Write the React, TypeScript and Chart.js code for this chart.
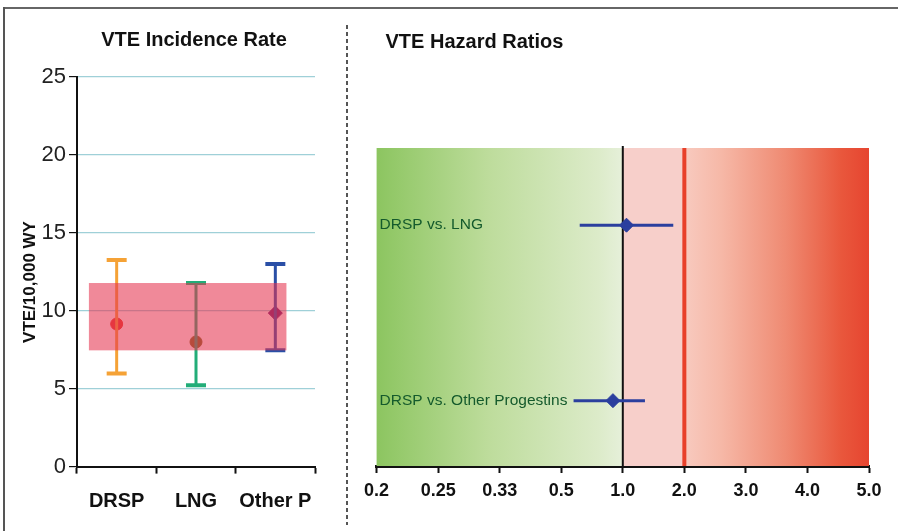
import React, { useEffect, useRef } from 'react';
import { Chart, registerables } from 'chart.js';
Chart.register(...registerables);

const FONT = "'Liberation Sans', Arial, Helvetica, sans-serif";

// ---------- Left panel: VTE incidence rate ----------
const groups = ['DRSP', 'LNG', 'Other P'];
const rateMean = [9.15, 8.0, 9.85];
const rateLow = [5.98, 5.22, 7.46];
const rateHigh = [13.26, 11.78, 13.0];
const bandLow = 7.46;
const bandHigh = 11.78;
const barColors = ['#f5a236', '#22ad78', '#2a4fa6'];
const pointColors = ['#e8392b', '#7b6a23', '#6b1f6e'];
const pointShapes = ['circle', 'circle', 'rectRot'];

// ---------- Right panel: VTE hazard ratios ----------
const hrTickLabels = ['0.2', '0.25', '0.33', '0.5', '1.0', '2.0', '3.0', '4.0', '5.0'];
const hrTickValues = [0.2, 0.25, 0.33, 0.5, 1, 2, 3, 4, 5];
const comparisons = ['DRSP vs. LNG', 'DRSP vs. Other Progestins'];
const hrEstimate = [1.06, 0.92];
const hrLow = [0.65, 0.6];
const hrHigh = [1.82, 1.36];

// axis transform: evenly spaced ticks, linear within each interval
function hrToPos(v: number): number {
  for (let i = 0; i < hrTickValues.length - 1; i++) {
    const a = hrTickValues[i], b = hrTickValues[i + 1];
    if (v >= a && v <= b) return i + (v - a) / (b - a);
  }
  return v < hrTickValues[0] ? 0 : hrTickValues.length - 1;
}

function LeftChart() {
  const ref = useRef<HTMLCanvasElement>(null);
  useEffect(() => {
    const datasets: any[] = [];
    groups.forEach((g, i) => {
      datasets.push({
        data: [{ x: g, y: rateLow[i] }, { x: g, y: rateHigh[i] }],
        borderColor: barColors[i],
        borderWidth: 3,
        pointRadius: 0,
      });
      datasets.push({
        data: [{ x: g, y: rateLow[i] }, { x: g, y: rateHigh[i] }],
        showLine: false,
        pointStyle: 'line',
        pointRadius: 10,
        pointBorderWidth: 4,
        pointBorderColor: barColors[i],
        pointBackgroundColor: barColors[i],
      });
      datasets.push({
        data: [{ x: g, y: rateMean[i] }],
        showLine: false,
        pointStyle: pointShapes[i],
        pointRadius: pointShapes[i] === 'rectRot' ? 7 : 6,
        pointBorderWidth: 1,
        pointBorderColor: pointColors[i],
        pointBackgroundColor: pointColors[i],
      });
    });
    const deco = {
      id: 'leftDeco',
      afterDatasetsDraw(chart: any) {
        const ctx = chart.ctx;
        const xs = chart.scales.x, ys = chart.scales.y;
        const p0 = xs.getPixelForValue(0), p2 = xs.getPixelForValue(2);
        const cw = xs.getPixelForValue(1) - p0;
        const x0 = p0 - 0.35 * cw, x1 = p2 + 0.14 * cw;
        const yt = ys.getPixelForValue(bandHigh), yb = ys.getPixelForValue(bandLow);
        ctx.save();
        ctx.fillStyle = 'rgba(230, 52, 80, 0.58)';
        ctx.fillRect(x0, yt, x1 - x0, yb - yt);
        ctx.restore();
      },
      afterDraw(chart: any) {
        const ctx = chart.ctx;
        ctx.save();
        ctx.fillStyle = '#111';
        ctx.font = `bold 20px ${FONT}`;
        ctx.textAlign = 'center';
        ctx.textBaseline = 'middle';
        ctx.fillText('VTE Incidence Rate', 194, 40);
        ctx.translate(30, 282);
        ctx.rotate(-Math.PI / 2);
        ctx.font = `bold 17px ${FONT}`;
        ctx.fillText('VTE/10,000 WY', 0, 0);
        ctx.restore();
      },
    };
    const chart = new Chart(ref.current as HTMLCanvasElement, {
      type: 'line',
      data: { labels: groups, datasets },
      options: {
        responsive: false,
        animation: false,
        events: [],
        layout: { padding: { top: 77, right: 31, left: 0, bottom: 0 } },
        plugins: { legend: { display: false }, tooltip: { enabled: false } },
        scales: {
          x: {
            type: 'category',
            offset: true,
            grid: {
              offset: true,
              drawOnChartArea: false,
              drawTicks: true,
              tickLength: 7,
              tickColor: '#111',
              tickWidth: 2,
            },
            border: { color: '#111', width: 2 },
            ticks: { font: { family: FONT, size: 20, weight: 'bold' }, color: '#111', padding: 16 },
            afterFit: (s: any) => { s.height = 64.4; },
          },
          y: {
            min: 0,
            max: 25,
            ticks: { stepSize: 5, font: { family: FONT, size: 22 }, color: '#222', padding: 3 },
            grid: {
              color: (c: any) => (c.tick && c.tick.value === 0 ? 'rgba(0,0,0,0)' : '#9fd0d8'),
              tickColor: '#111',
              tickLength: 8,
              lineWidth: 1.2,
            },
            border: { color: '#111', width: 2 },
            afterFit: (s: any) => { s.width = 77; },
          },
        },
      } as any,
      plugins: [deco],
    });
    return () => chart.destroy();
  }, []);
  return <canvas ref={ref} width={346} height={531} style={{ position: 'absolute', left: 0, top: 0 }} />;
}

function RightChart() {
  const ref = useRef<HTMLCanvasElement>(null);
  useEffect(() => {
    const rowY = comparisons.map((_, i) => 1 + 2 * i);
    const datasets: any[] = [];
    comparisons.forEach((c, i) => {
      datasets.push({
        data: [{ x: hrToPos(hrLow[i]), y: rowY[i] }, { x: hrToPos(hrHigh[i]), y: rowY[i] }],
        borderColor: '#2b3f9e',
        borderWidth: 3,
        pointRadius: 0,
      });
      datasets.push({
        data: [{ x: hrToPos(hrEstimate[i]), y: rowY[i] }],
        showLine: false,
        pointStyle: 'rectRot',
        pointRadius: 7,
        pointBorderWidth: 1,
        pointBorderColor: '#2b3f9e',
        pointBackgroundColor: '#2b3f9e',
      });
    });
    const deco = {
      id: 'rightDeco',
      beforeDatasetsDraw(chart: any) {
        const ctx = chart.ctx;
        const { left, right, top, bottom } = chart.chartArea;
        const xs = chart.scales.x, ys = chart.scales.y;
        const x1 = xs.getPixelForValue(hrToPos(1));
        const x2 = xs.getPixelForValue(hrToPos(2));
        ctx.save();
        let g = ctx.createLinearGradient(left, 0, x1, 0);
        g.addColorStop(0, '#8cc560');
        g.addColorStop(0.45, '#bddc9b');
        g.addColorStop(0.9, '#dcebc9');
        g.addColorStop(1, '#e6f0da');
        ctx.fillStyle = g;
        ctx.fillRect(left, top, x1 - left, bottom - top);
        ctx.fillStyle = '#f7cfca';
        ctx.fillRect(x1, top, x2 - x1, bottom - top);
        g = ctx.createLinearGradient(x2, 0, right, 0);
        g.addColorStop(0, '#f8cabf');
        g.addColorStop(0.2, '#f6b8a7');
        g.addColorStop(0.55, '#ef8a72');
        g.addColorStop(0.85, '#e9573c');
        g.addColorStop(1, '#e64530');
        ctx.fillStyle = g;
        ctx.fillRect(x2, top, right - x2, bottom - top);
        // reference lines
        ctx.strokeStyle = '#e8402a';
        ctx.lineWidth = 4;
        ctx.beginPath();
        ctx.moveTo(x2, top);
        ctx.lineTo(x2, bottom);
        ctx.stroke();
        ctx.strokeStyle = '#111';
        ctx.lineWidth = 2;
        ctx.beginPath();
        ctx.moveTo(x1, top - 2);
        ctx.lineTo(x1, bottom);
        ctx.stroke();
        // comparison labels
        ctx.fillStyle = '#145a2c';
        ctx.font = `15.5px ${FONT}`;
        ctx.textAlign = 'left';
        ctx.textBaseline = 'middle';
        comparisons.forEach((c, i) => {
          ctx.fillText(c, left + 3, ys.getPixelForValue(rowY[i]));
        });
        ctx.restore();
      },
      afterDraw(chart: any) {
        const ctx = chart.ctx;
        ctx.save();
        ctx.fillStyle = '#111';
        ctx.font = `bold 20px ${FONT}`;
        ctx.textAlign = 'left';
        ctx.textBaseline = 'middle';
        ctx.fillText('VTE Hazard Ratios', 39.5, 42.7);
        ctx.restore();
      },
    };
    const chart = new Chart(ref.current as HTMLCanvasElement, {
      type: 'line',
      data: { datasets },
      options: {
        responsive: false,
        animation: false,
        events: [],
        layout: { padding: { top: 148, right: 29, left: 30.6, bottom: 0 } },
        plugins: { legend: { display: false }, tooltip: { enabled: false } },
        scales: {
          x: {
            type: 'linear',
            min: 0,
            max: hrTickLabels.length - 1,
            grid: {
              drawOnChartArea: false,
              drawTicks: true,
              tickLength: 7,
              tickColor: '#111',
              tickWidth: 2,
            },
            border: { color: '#111', width: 3 },
            ticks: {
              stepSize: 1,
              autoSkip: false,
              maxRotation: 0,
              callback: (v: any) => hrTickLabels[Math.round(Number(v))],
              font: { family: FONT, size: 18, weight: 'bold' },
              color: '#111',
              padding: 7,
            },
            afterFit: (s: any) => { s.height = 65; },
          },
          y: {
            type: 'linear',
            display: false,
            reverse: true,
            min: 0.12,
            max: 3.745,
          },
        },
      } as any,
      plugins: [deco],
    });
    return () => chart.destroy();
  }, []);
  return <canvas ref={ref} width={552} height={531} style={{ position: 'absolute', left: 346, top: 0 }} />;
}

export default function App() {
  return (
    <div style={{ position: 'fixed', left: 0, top: 0, width: 898, height: 531, background: '#fff', overflow: 'hidden' }}>
      <LeftChart />
      <RightChart />
      <svg width={898} height={531} style={{ position: 'absolute', left: 0, top: 0, pointerEvents: 'none' }}>
        <line x1={4} y1={8} x2={898} y2={8} stroke="#666" strokeWidth={2} />
        <line x1={4} y1={7} x2={4} y2={531} stroke="#555" strokeWidth={2} />
        <line x1={347} y1={25} x2={347} y2={525} stroke="#555" strokeWidth={2} strokeDasharray="4 3" />
      </svg>
    </div>
  );
}
